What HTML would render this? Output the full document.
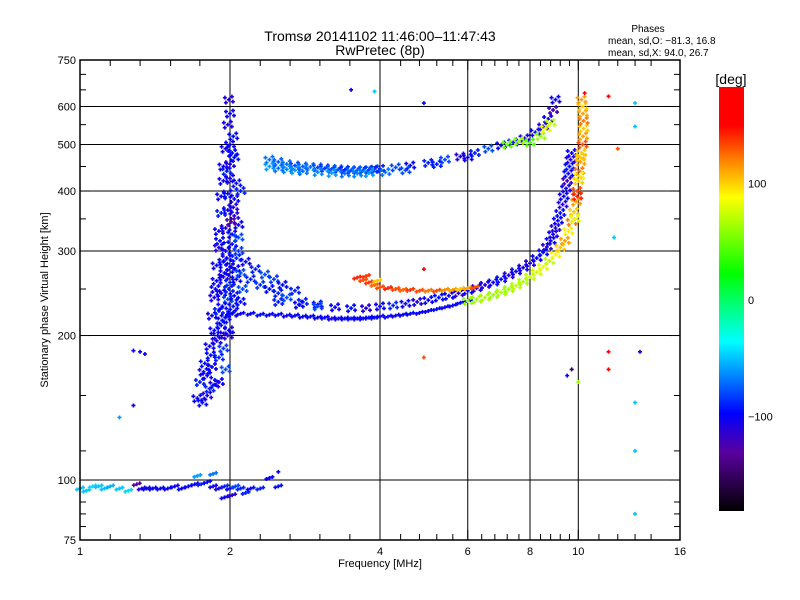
<!DOCTYPE html>
<html><head><meta charset="utf-8"><style>
body{margin:0;background:#fff;}
svg{display:block;font-family:"Liberation Sans",sans-serif;}
</style></head><body>
<svg id="c" width="800" height="600" xmlns="http://www.w3.org/2000/svg">
<defs>
<linearGradient id="cb" x1="0" y1="0" x2="0" y2="1">
<stop offset="0" stop-color="#ff0000"/><stop offset="0.09" stop-color="#ff0000"/>
<stop offset="0.18" stop-color="#ff8c00"/><stop offset="0.26" stop-color="#ffff00"/>
<stop offset="0.44" stop-color="#00ff00"/><stop offset="0.6" stop-color="#00ffff"/>
<stop offset="0.77" stop-color="#0000ff"/><stop offset="0.86" stop-color="#5a00a0"/>
<stop offset="1" stop-color="#000000"/>
</linearGradient>
</defs>
<text x="380" y="41" font-size="14" text-anchor="middle">Tromsø 20141102 11:46:00–11:47:43</text>
<text x="380" y="55" font-size="14" text-anchor="middle">RwPretec (8p)</text>
<g font-size="10">
<text x="648" y="32" text-anchor="middle">Phases</text>
<text x="608" y="44">mean, sd,O: −81.3, 16.8</text>
<text x="608" y="56">mean, sd,X:  94.0, 26.7</text>
</g>
<rect x="719" y="87" width="25" height="424" fill="url(#cb)"/>
<text x="731" y="84" font-size="14" text-anchor="middle">[deg]</text>
<g id="cbt" font-size="11"></g>
<g id="grid"></g>
<g id="marks"></g>
<rect x="80" y="60" width="600" height="480" fill="none" stroke="#000" stroke-width="1.5"/>
<g id="axes" font-size="11"></g>
<text x="380" y="567" font-size="11" text-anchor="middle">Frequency [MHz]</text>
<text transform="translate(48,300) rotate(-90)" font-size="11" text-anchor="middle">Stationary phase Virtual Height [km]</text>
</svg>
<script>
// ---- data ----
const xTicks=[1,2,4,6,8,10,16];
const xMinor=[1.15,1.32,1.52,1.74,2.3,2.64,3.03,3.48,4.4,4.8,5.2,5.6,6.4,6.8,7.2,7.6,8.4,8.8,9.2,9.6,11,12,13,14];
const yTicks=[75,100,200,300,400,500,600,750];
const yMinor=[80,85,90,115,150,250,350,450,550,650,700];
const xGrid=[2,4,6,8,10];
const yGrid=[100,200,300,400,500,600];
const cbTicks=[100,0,-100];

const eF=[1.0,1.03,1.06,1.09,1.12,1.15,1.2,1.25,1.3,1.33,1.36,1.4,1.45,1.5,1.55,1.6,1.65,1.7,1.75,1.8,1.85,1.9,1.95,2.0,2.05,2.1,2.2,2.3,2.5,1.72,1.85,1.95,2.02,2.15,2.4];
const eH=[96,95,97,97,96,97,96,95,98,96,96,96,96,96,97,96,97,98,98,99,97,96,97,96,97,96,96,96,97,102,103,92,93,94,101];
const eP=[-50,-50,-45,-50,-50,-55,-50,-45,-130,-110,-100,-100,-100,-100,-100,-100,-95,-100,-90,-95,-100,-110,-90,-100,-80,-90,-100,-90,-95,-60,-70,-100,-110,-90,-100];

const sF=[1.72,1.76,1.8,1.74,1.8,1.86,1.78,1.84,1.9,1.82,1.88,1.94,1.86,1.92,1.98,1.84,1.9,1.96,2.02,1.86,1.92,1.98,2.04,2.1,1.88,1.94,2.0,2.06,2.12,1.88,1.94,2.0,2.06,1.9,1.96,2.02,2.08,1.9,1.96,2.02,2.08,1.92,1.98,2.04,1.92,1.98,2.04,2.1,1.94,2.0,2.06,1.94,2.0,2.04,1.96,2.0,2.03,1.98,2.0,1.99,2.02,1.97,2.01,1.95,2.03,1.96,1.9,1.82,1.77,1.83,1.89,1.93,1.99,2.05,2.08,1.91,1.97,2.03,1.87,1.93,1.99];
const sH=[148,145,150,160,165,158,175,172,180,190,195,188,205,210,200,220,225,218,222,240,245,238,242,235,260,265,258,262,250,280,285,278,290,305,300,310,300,330,335,325,340,360,365,355,390,395,385,400,420,425,415,450,455,470,490,500,520,550,580,620,480,440,345,270,230,170,160,155,168,182,200,230,250,275,320,315,290,370,250,215,205];
const sP=[-100,-95,-105,-90,-100,-110,-95,-100,-90,-100,-105,-85,-100,-95,-110,-100,-90,-100,-95,-105,-100,-80,-100,-95,-100,-110,-90,-100,-80,-100,-95,-100,-90,-110,-100,-95,-85,-100,-105,-95,-100,-90,-100,-110,-100,-95,-100,-90,-100,-105,-95,-100,-110,-95,-100,-100,-95,-105,-100,-110,-95,-90,-130,-100,-95,-80,-100,-90,-100,-95,-105,-100,-90,-100,-80,-95,-100,-110,-100,-95,-100];

const kF=[2.1,2.2,2.3,2.4,2.5,2.6,2.8,3.0,2.15,2.25,2.35,2.45,2.55,2.7];
const kH=[270,262,255,250,245,240,235,232,285,275,268,262,255,248];
const kP=[-80,-90,-85,-95,-90,-80,-90,-95,-100,-90,-80,-85,-95,-90];

const lF=[2.0,2.1,2.2,2.3,2.4,2.5,2.6,2.7,2.8,2.9,3.0,3.1,3.2,3.3,3.4,3.5,3.6,3.7,3.8,3.9,4.0,4.15,4.3,4.45,4.6,4.8,5.0,5.2,5.4,5.6,5.8,6.0];
const lH=[222,222,222,221,221,221,220,220,219,219,218,218,217,217,217,217,217,217,218,218,219,219,220,221,222,223,225,227,229,231,234,236];
const lP=[-100,-100,-100,-95,-100,-100,-105,-100,-95,-100,-100,-100,-105,-100,-100,-95,-100,-100,-100,-95,-100,-100,-105,-100,-95,-100,-100,-95,-100,-100,-95,-100];

const oF=[2.5,2.75,3.0,3.25,3.5,3.75,4.0,4.25,4.5,4.75,5.0,5.25,5.5,5.75,6.0,6.25,6.5,6.75,7.0,7.25,7.5,7.75,8.0,8.25,8.5,8.65,8.8,8.9,9.0,9.1,9.2,9.3,9.35,9.45,9.5,9.55,9.6,9.65,9.7];
const oH=[235,232,230,229,228,228,230,231,233,235,237,240,242,245,248,251,255,258,262,267,272,277,283,290,298,306,315,325,335,347,360,375,390,405,420,435,450,465,480];
const oP=[-90,-100,-80,-100,-95,-110,-100,-90,-100,-110,-100,-95,-100,-110,-100,-105,-110,-100,-95,-110,-100,-105,-110,-100,-95,-110,-100,-105,-110,-100,-95,-110,-100,-105,-120,-100,-95,-110,-100];

const xF=[6.0,6.25,6.5,6.75,7.0,7.25,7.5,7.75,8.0,8.25,8.5,8.75,9.0,9.2,9.4,9.55,9.7,9.8,9.9,9.95,10.0,10.05,10.1,10.15,10.2,10.22,10.25,10.25,10.22,10.2,10.15,9.85,9.95,10.05,10.1];
const xH=[236,238,240,243,246,250,254,259,265,271,278,286,295,305,315,330,345,362,380,400,420,440,460,480,500,520,540,560,580,600,620,350,390,430,470];
const xP=[60,60,65,60,65,60,70,65,70,75,80,70,90,100,110,90,120,100,110,130,100,120,110,100,130,110,100,120,110,100,110,80,140,90,100];

const rF=[3.6,3.7,3.8,3.9,4.0,4.15,4.3,4.45,4.6,4.8,5.0,5.2,5.4,5.6,5.8,6.0,6.2,3.75,3.95];
const rH=[264,261,258,255,252,251,250,249,249,248,248,248,249,249,250,251,252,266,260];
const rP=[140,130,135,125,130,140,130,125,135,130,120,130,115,110,100,110,130,135,100];

const uF=[2.4,2.5,2.6,2.7,2.8,2.9,3.0,3.1,3.2,3.3,3.4,3.5,3.6,3.7,3.8,3.9,4.0,4.3,4.6,5.0,5.4,5.8,6.2,6.6,7.0,7.4,7.8,8.2,8.5,8.7,8.9,9.0,2.4,2.5,2.6,2.7,2.8,3.0,3.2,3.4,3.6,3.8,4.1,4.5,5.2,6.0,7.2,7.6,8.0,8.4,8.6,8.8];
const uH=[465,460,455,452,450,449,448,446,445,444,443,442,442,442,443,444,445,448,452,458,465,472,480,490,498,505,515,530,545,565,590,620,450,446,444,442,440,438,436,435,435,436,438,442,455,470,500,508,505,520,540,555];
const uP=[-70,-75,-70,-80,-75,-70,-80,-85,-75,-80,-90,-80,-75,-80,-85,-80,-90,-80,-100,-90,-80,-110,-90,-80,-100,-90,-110,-100,-110,-100,-120,-100,-60,-70,-65,-60,-70,-65,-60,-70,-65,-60,-70,-80,-90,-100,50,60,40,60,80,70];

const pF=[3.5,3.9,4.9,10.3,11.5,13,13,12,11.8,4.9,11.5,11.5,13.3,13,13,13,1.32,1.35,1.28,1.2,1.28,2.5,4.9,9.7,9.5,10.0];
const pH=[650,645,610,640,630,610,545,490,320,180,185,170,185,145,115,85,185,183,186,135,143,104,275,170,165,160];
const pP=[-100,-50,-100,150,170,-50,-50,130,-50,130,150,170,-100,-50,-50,-50,-100,-100,-100,-60,-100,-100,150,-150,-100,60];

// ---- scales ----
const X=f=>80+150*Math.log2(f);
const Y=h=>540-480*Math.log10(h/75);
const CBY=v=>300-v*1.165;
const stops=[[0,[255,0,0]],[0.09,[255,0,0]],[0.18,[255,140,0]],[0.26,[255,255,0]],[0.44,[0,255,0]],[0.6,[0,255,255]],[0.77,[0,0,255]],[0.86,[90,0,160]],[1,[0,0,0]]];
function col(v){let t=(180-v)/360;t=Math.max(0,Math.min(1,t));
 for(let i=1;i<stops.length;i++){if(t<=stops[i][0]){const a=stops[i-1],b=stops[i];const u=(t-a[0])/(b[0]-a[0]||1);
 const c=a[1].map((x,k)=>Math.round(x+(b[1][k]-x)*u));return `rgb(${c})`;}}return '#000';}
const NS='http://www.w3.org/2000/svg';
function mk(tag,attrs,parent){const e=document.createElementNS(NS,tag);for(const k in attrs)e.setAttribute(k,attrs[k]);parent.appendChild(e);return e;}

const grid=document.getElementById('grid');


xGrid.forEach(f=>{const l=mk('line',{x1:X(f),x2:X(f),y1:60,y2:540,stroke:'#000','stroke-width':1},grid);

});
yGrid.forEach(h=>{const l=mk('line',{x1:80,x2:680,y1:Y(h),y2:Y(h),stroke:'#000','stroke-width':1},grid);

});

const ax=document.getElementById('axes');


xTicks.forEach(f=>{const t=mk('text',{x:X(f),y:555,'text-anchor':'middle'},ax);t.textContent=f;


mk('line',{x1:X(f),x2:X(f),y1:540,y2:530,stroke:'#000'},ax);mk('line',{x1:X(f),x2:X(f),y1:60,y2:70,stroke:'#000'},ax);});
xMinor.forEach(f=>{mk('line',{x1:X(f),x2:X(f),y1:540,y2:534,stroke:'#000'},ax);mk('line',{x1:X(f),x2:X(f),y1:60,y2:66,stroke:'#000'},ax);});
yTicks.forEach(h=>{const t=mk('text',{x:76,y:Y(h)+4,'text-anchor':'end'},ax);t.textContent=h;


mk('line',{x1:80,x2:90,y1:Y(h),y2:Y(h),stroke:'#000'},ax);mk('line',{x1:670,x2:680,y1:Y(h),y2:Y(h),stroke:'#000'},ax);});
yMinor.forEach(h=>{mk('line',{x1:80,x2:86,y1:Y(h),y2:Y(h),stroke:'#000'},ax);mk('line',{x1:674,x2:680,y1:Y(h),y2:Y(h),stroke:'#000'},ax);});

const cbt=document.getElementById('cbt');
cbTicks.forEach(v=>{const t=mk('text',{x:748,y:CBY(v)+4},cbt);t.textContent=(v<0?'−'+(-v):v);

});

// marker glyph shapes (pixel offsets of sub-crosses making one echo blob)
const GLYPH_BIG=[[0,0],[-4,-2],[4,2],[-3,3],[3,-3]];
const GLYPH_MED=[[0,0],[-3,1],[3,-1]];
const GLYPH_ONE=[[0,0]];
const marks=document.getElementById('marks');


function series(name,F,H,P,glyph){const g=mk('g',{},marks);


for(let i=0;i<F.length;i++){const x0=X(F[i]),y0=Y(H[i]);let d='';
 glyph.forEach(o=>{const x=x0+o[0],y=y0+o[1];d+=`M${x-2} ${y}h4M${x} ${y-2}v4`;});
 mk('path',{d:d,stroke:col(P[i]),'stroke-width':1.6,fill:'none'},g);}}
series('e-layer-trace',eF,eH,eP,GLYPH_MED);
series('spread-f-cloud',sF,sH,sP,GLYPH_BIG);
series('spread-knee-trace',kF,kH,kP,GLYPH_BIG);
series('f1-lower-trace',lF,lH,lP,GLYPH_MED);
series('o-mode-trace',oF,oH,oP,GLYPH_BIG);
series('x-mode-trace',xF,xH,xP,GLYPH_BIG);
series('x-mode-orange-trace',rF,rH,rP,GLYPH_MED);
series('upper-f-trace',uF,uH,uP,GLYPH_BIG);
series('scattered-echoes',pF,pH,pP,GLYPH_ONE);
</script>
</body></html>
